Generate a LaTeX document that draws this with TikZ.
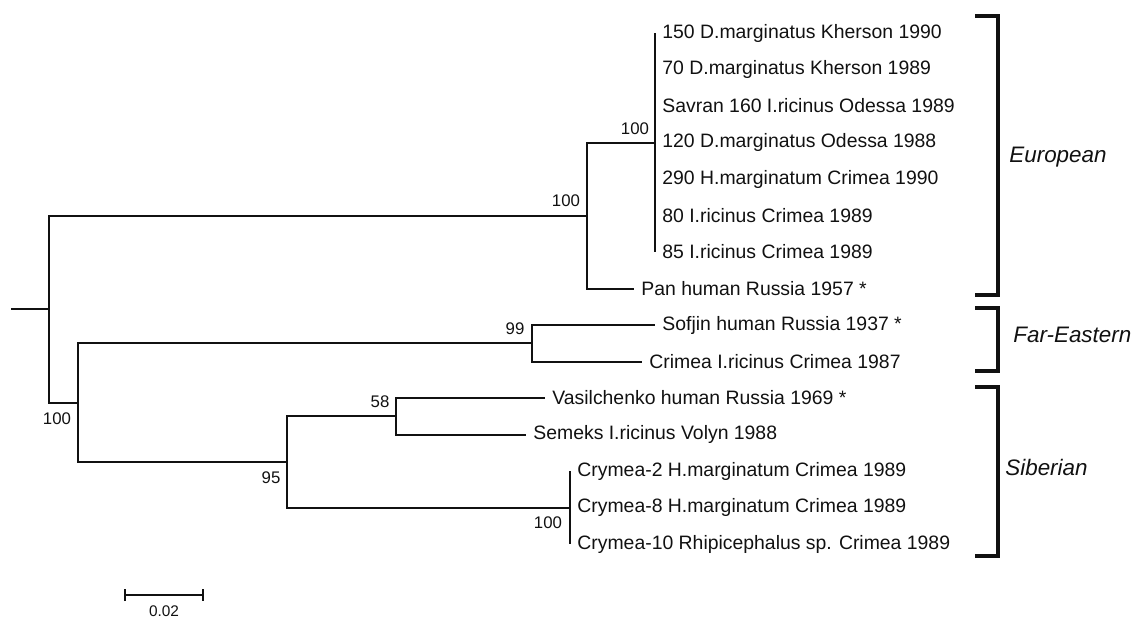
\documentclass[tikz,border=0pt]{standalone}
\usepackage{fontspec}
\setmainfont{Liberation Sans}
\usepackage{tikz}
\usetikzlibrary{arrows.meta}
\definecolor{ink}{HTML}{111111}
\tikzset{
  br/.style={draw=ink, line width=1pt},
  brk/.style={draw=ink, line width=1.6pt},
  leaf/.style={anchor=west, text=ink, inner xsep=3.5pt, inner ysep=0pt, font=\fontsize{9.7}{11}\selectfont},
  boot/.style={text=ink, inner sep=0pt, font=\fontsize{8.4}{10}\selectfont},
  clade/.style={anchor=west, text=ink, inner sep=0pt, font=\fontsize{11.2}{13}\selectfont\itshape},
}

\begin{document}
\begin{tikzpicture}[x=0.5pt, y=-0.5pt]
  \useasboundingbox (0,0) rectangle (1135,617);

  % inner nodes of the tree
  \coordinate (stem) at (11,309);
  \coordinate (root) at (49,309);
  \coordinate (eur) at (587,215.5);
  \coordinate (eurin) at (655,142.5);
  \coordinate (low) at (78,402.6);
  \coordinate (fae) at (532,343.2);
  \coordinate (sib) at (287,461.9);
  \coordinate (sibA) at (396,416.2);
  \coordinate (sibB) at (570,507.5);

  % leaves
  \node[leaf] (l1) at (655,33) {150 D.marginatus Kherson 1990};
  \node[leaf] (l2) at (655,69.5) {70 D.marginatus Kherson 1989};
  \node[leaf] (l3) at (655,106) {Savran 160 I.ricinus Odessa 1989};
  \node[leaf] (l4) at (655,142.5) {120 D.marginatus Odessa 1988};
  \node[leaf] (l5) at (655,179) {290 H.marginatum Crimea 1990};
  \node[leaf] (l6) at (655,215.5) {80 I.ricinus Crimea 1989};
  \node[leaf] (l7) at (655,252) {85 I.ricinus Crimea 1989};
  \node[leaf] (l8) at (634,288.5) {Pan human Russia 1957 *};
  \node[leaf] (l9) at (655,325) {Sofjin human Russia 1937 *};
  \node[leaf] (l10) at (642,361.5) {Crimea I.ricinus Crimea 1987};
  \node[leaf] (l11) at (545,398) {Vasilchenko human Russia 1969 *};
  \node[leaf] (l12) at (526,434.5) {Semeks I.ricinus Volyn 1988};
  \node[leaf] (l13) at (570,471) {Crymea-2 H.marginatum Crimea 1989};
  \node[leaf] (l14) at (570,507.5) {Crymea-8 H.marginatum Crimea 1989};
  \node[leaf] (l15) at (570,544) {Crymea-10 Rhipicephalus sp. Crimea 1989};

  % branches
  \draw[br] (stem) -- (root);
  \draw[br] (root) |- (eur);
  \draw[br] (root) |- (low);
  \draw[br] (eur) |- (eurin);
  \draw[br] (eur) |- (l8.west);
  \draw[br] (eurin) |- (l1.west);
  \draw[br] (eurin) |- (l7.west);
  \draw[br] (low) |- (fae);
  \draw[br] (low) |- (sib);
  \draw[br] (fae) |- (l9.west);
  \draw[br] (fae) |- (l10.west);
  \draw[br] (sib) |- (sibA);
  \draw[br] (sib) |- (sibB);
  \draw[br] (sibA) |- (l11.west);
  \draw[br] (sibA) |- (l12.west);
  \draw[br] (sibB) |- (l13.west);
  \draw[br] (sibB) |- (l15.west);

  % bootstrap values
  \node[boot] (b1) at (566,201) {100};
  \node[boot] (b2) at (635,129) {100};
  \node[boot] (b3) at (515,329) {99};
  \node[boot] (b4) at (57,419) {100};
  \node[boot] (b5) at (380,402) {58};
  \node[boot] (b6) at (271,478) {95};
  \node[boot] (b7) at (548,523) {100};

  % clade brackets
  \draw[brk] (975,16) -| (998,295) -- (975,295);
  \draw[brk] (975,308) -| (998,371) -- (975,371);
  \draw[brk] (975,387) -| (998,556) -- (975,556);
  \node[clade] (eurlab) at (1009,157) {European};
  \node[clade] (faelab) at (1013,335) {Far-Eastern};
  \node[clade] (siblab) at (1005,467) {Siberian};

  % scale bar
  \coordinate (sb1) at (124,595);
  \coordinate (sb2) at (204,595);
  \draw[br, {Bar[width=6pt]}-{Bar[width=6pt]}] (sb1) -- (sb2);
  \node[boot, font=\fontsize{7.7}{9}\selectfont] (sblab) at (164,611) {0.02};
\end{tikzpicture}
\end{document}
